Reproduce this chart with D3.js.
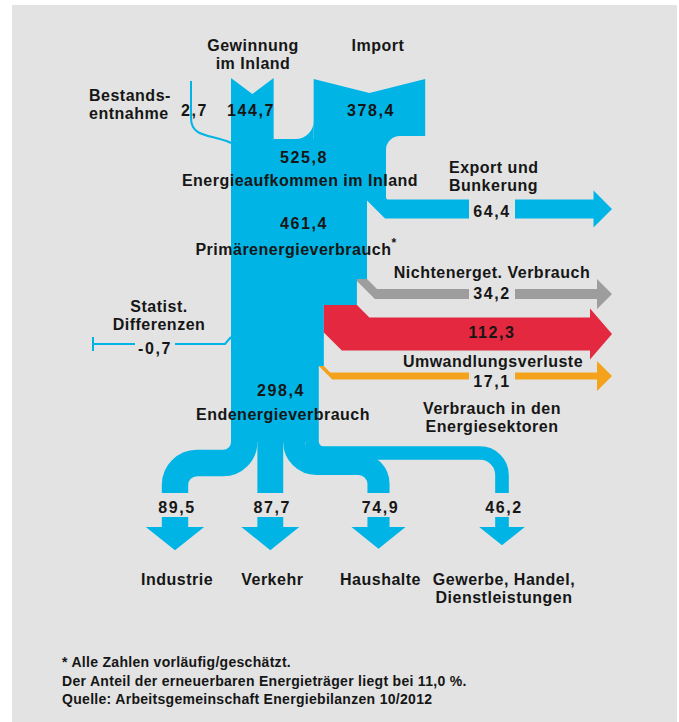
<!DOCTYPE html>
<html>
<head>
<meta charset="utf-8">
<title>Energieflussbild</title>
<script src="https://cdn.jsdelivr.net/npm/d3@7"></script>
<style>
  body { margin: 0; background: #fff; }
  svg { display: block; }
  text { font-family: "Liberation Sans", Arial, sans-serif; font-weight: 700; fill: #161616; }
  .lbl { font-size: 16px; letter-spacing: 0.5px; }
  .num { font-size: 16px; letter-spacing: 1.6px; }
  .note { font-size: 14px; letter-spacing: 0.3px; }
</style>
</head>
<body>
<svg id="chart" width="679" height="722"></svg>
<script>

// values as printed in the chart
var sourceNames  = [["Bestands-", "entnahme"], ["Gewinnung", "im Inland"], ["Import"]];
var sourceValues = [2.7, 144.7, 378.4];

var stageNames  = ["Energieaufkommen im Inland", "Primärenergieverbrauch", "Endenergieverbrauch"];
var stageValues = [525.8, 461.4, 298.4];

var outflowNames  = [["Export und", "Bunkerung"], ["Nichtenerget. Verbrauch"], ["Umwandlungsverluste"], ["Verbrauch in den", "Energiesektoren"]];
var outflowValues = [64.4, 34.2, 112.3, 17.1];

var diffName  = ["Statist.", "Differenzen"];
var diffValue = -0.7;

var sectorNames  = [["Industrie"], ["Verkehr"], ["Haushalte"], ["Gewerbe, Handel,", "Dienstleistungen"]];
var sectorValues = [89.5, 87.7, 74.9, 46.2];

var notes = [
    "* Alle Zahlen vorläufig/geschätzt.",
    "Der Anteil der erneuerbaren Energieträger liegt bei 11,0 %.",
    "Quelle: Arbeitsgemeinschaft Energiebilanzen 10/2012"
];

// colours
var blue = "#00b4e5", bg = "#e2e3e2";
var outColors = [blue, "#9d9d9d", "#e3283f", "#f4a11c"];

// layout
var x0 = 231, yTop = 78, yJoin = 139, yImpBottom = 136, yBottom = 442, yEnd = 493;
var outY     = [198, 279, 305, 366];   // where each outflow leaves the trunk
var outMid   = [209, 294, 334, 376];   // centre of the horizontal arrow
var outNumDy = [8, 5, 4, 11];
var tipX = 612, numX = 492;
var sectorX  = [175, null, 378.5, 502];
var sectorYh = [463, null, 464, 453];
var sectorR1 = [21, 0, 22, 11];
var sectorR2 = [22, 0, 20, 22];

var svg = d3.select("#chart");
svg.append("rect")
    .attr("x", 12).attr("y", 5)
    .attr("width", 665).attr("height", 717)
    .attr("fill", bg);

var fmt = d3.formatLocale({ decimal: ",", thousands: ".", grouping: [3], currency: ["", ""], minus: "-" }).format(".1f");

// one width scale for every stream
var w = d3.scaleLinear().domain([0, stageValues[0]]).range([0, 155]);

var line = d3.line();
var gFlow = svg.append("g");
var gText = svg.append("g");

// multi-line label as one text element
function label(lines, x, y, anchor, cls) {
    var t = gText.append("text")
        .attr("class", cls || "lbl")
        .attr("x", x).attr("y", y)
        .attr("text-anchor", anchor || "middle");
    lines.forEach(function(s, j) {
        t.append("tspan").attr("x", x).attr("dy", j ? 18 : 0).text(s);
    });
    return t;
}

// ---- sources on top ----
var gx1 = x0 + w(sourceValues[1]);
var ix0 = gx1 + 40, ix1 = ix0 + w(sourceValues[2]);

// trunk right edge after each outflow
var edges = [x0 + w(stageValues[0])];
outflowValues.forEach(function(v, i) { edges.push(edges[i] - w(v)); });

gFlow.append("path")
    .attr("d", line([[x0, yTop], [(x0 + gx1) / 2, yTop + 16], [gx1, yTop], [gx1, yJoin + 1], [x0, yJoin + 1]]) + "Z")
    .attr("fill", blue);

gFlow.append("path")
    .attr("d", line([[ix0, yTop + 1], [(ix0 + ix1) / 2, yTop + 15], [ix1, yTop + 1], [ix1, yImpBottom],
                     [edges[0], yImpBottom], [edges[0], yJoin + 1], [ix0, yJoin + 1]]) + "Z")
    .attr("fill", blue);

// trunk
var trunk = [[x0, yJoin], [edges[0], yJoin]];
outY.forEach(function(y, i) { trunk.push([edges[i], y], [edges[i + 1], y]); });
trunk.push([edges[4], yBottom], [x0, yBottom]);
gFlow.append("path").attr("d", line(trunk) + "Z").attr("fill", blue);

// rounded inner corners
var r = 18;
gFlow.append("path")
    .attr("d", "M" + (ix0 - r) + "," + yJoin + "L" + ix0 + "," + yJoin + "L" + ix0 + "," + (yJoin - r) +
               "A" + r + "," + r + " 0 0 1 " + (ix0 - r) + "," + yJoin + "Z")
    .attr("fill", blue);
r = 14;
gFlow.append("path")
    .attr("d", "M" + edges[0] + "," + yImpBottom + "L" + (edges[0] + r) + "," + yImpBottom +
               "A" + r + "," + r + " 0 0 0 " + edges[0] + "," + (yImpBottom + r) + "Z")
    .attr("fill", blue);

// Bestandsentnahme: thin line into the trunk
gFlow.append("path")
    .attr("d", "M191,81 L191,118 C191,139 214,134 " + x0 + "," + (yJoin + 4))
    .attr("fill", "none").attr("stroke", blue)
    .attr("stroke-width", Math.max(2, w(sourceValues[0])));

// ---- outflow arrows to the right ----
outflowValues.forEach(function(v, i) {
    var t = Math.max(7, w(v)), ys = outY[i], yc = outMid[i];
    var xa = edges[i + 1], xb = edges[i];
    var yt = yc - t / 2, yb = yc + t / 2;
    var D = Math.min(yb - ys, 18);
    var hh = Math.max(15, t / 2 + 9), hl = Math.min(hh, 22), hx = tipX - hl;
    var pts = [[xa, ys], [xb, ys], [xb + Math.max(0, yt - ys), yt], [hx, yt], [hx, yc - hh], [tipX, yc],
               [hx, yc + hh], [hx, yb], [xa + D, yb], [xa, yb - D]];
    gFlow.append("path").attr("d", line(pts) + "Z").attr("fill", outColors[i]);

    if (i !== 2) {
        gFlow.append("rect")
            .attr("x", numX - 23).attr("y", yt - 1)
            .attr("width", 46).attr("height", t + 2)
            .attr("fill", bg);
    }
    gText.append("text").attr("class", "num")
        .attr("x", numX).attr("y", yc + outNumDy[i])
        .attr("text-anchor", "middle")
        .text(fmt(v));
});

// outflow names
label(outflowNames[0], 449, 173, "start");
label(outflowNames[1], 492, 278);
label(outflowNames[2], 493, 367);
label(outflowNames[3], 492, 414);

// ---- statistical differences ----
gFlow.append("path")
    .attr("d", "M93,344 H225 L" + x0 + ",337 M93,337 V351")
    .attr("fill", "none").attr("stroke", blue).attr("stroke-width", 2);
gFlow.append("rect").attr("x", 135).attr("y", 340).attr("width", 40).attr("height", 8).attr("fill", bg);
label(diffName, 159, 312);
gText.append("text").attr("class", "num").attr("x", 155).attr("y", 354).attr("text-anchor", "middle").text(fmt(diffValue));

// ---- end use sectors ----
function branchPath(xs, xe, yh, r1, r2) {
    var p = d3.path();
    p.moveTo(xs, yBottom);
    if (xe === null || xe === xs) { p.lineTo(xs, yEnd); return p.toString(); }
    var dir = xe < xs ? -1 : 1;
    p.lineTo(xs, yh - r1);
    p.arcTo(xs, yh, xs + dir * r1, yh, r1);
    p.lineTo(xe - dir * r2, yh);
    p.arcTo(xe, yh, xe, yh + r2, r2);
    p.lineTo(xe, yEnd);
    return p.toString();
}

var xs = x0;
sectorValues.forEach(function(v, i) {
    var bw = w(v), xc = xs + bw / 2;
    var xe = sectorX[i] === null ? xc : sectorX[i];
    gFlow.append("path")
        .attr("d", branchPath(xc, xe, sectorYh[i], sectorR1[i], sectorR2[i]))
        .attr("fill", "none").attr("stroke", blue)
        .attr("stroke-width", bw);

    var hw = bw / 2 + 16, hgt = hw * 0.8;
    gFlow.append("path")
        .attr("d", line([[xe - bw / 2, 517], [xe + bw / 2, 517], [xe + bw / 2, 527], [xe + hw, 527],
                         [xe, 527 + hgt], [xe - hw, 527], [xe - bw / 2, 527]]) + "Z")
        .attr("fill", blue);

    gText.append("text").attr("class", "num")
        .attr("x", xe + 2).attr("y", 513).attr("text-anchor", "middle")
        .text(fmt(v));
    label(sectorNames[i], xe + 2, 585);
    xs += bw;
});

// ---- source and stage labels ----
label(sourceNames[0], 89, 101, "start");
label(sourceNames[1], 253, 51);
label(sourceNames[2], 378, 51);

[194.5, 251, 371].forEach(function(x, i) {
    gText.append("text").attr("class", "num")
        .attr("x", x).attr("y", 116).attr("text-anchor", "middle")
        .text(fmt(sourceValues[i]));
});

var stageNumY = [163, 229, 396], stageLblY = [186, 255, 420], stageX = [304, 304, 281];
stageValues.forEach(function(v, i) {
    gText.append("text").attr("class", "num")
        .attr("x", stageX[i]).attr("y", stageNumY[i]).attr("text-anchor", "middle")
        .text(fmt(v));
});
label([stageNames[0]], 300, stageLblY[0]);
var prim = gText.append("text").attr("class", "lbl").attr("x", 296).attr("y", stageLblY[1]).attr("text-anchor", "middle");
prim.append("tspan").text(stageNames[1]);
prim.append("tspan").attr("dy", -8).style("font-size", "12px").text("*");
label([stageNames[2]], 283, stageLblY[2]);

// ---- footnotes ----
notes.forEach(function(s, i) {
    gText.append("text").attr("class", "note")
        .attr("x", 62).attr("y", 667 + i * 18.5)
        .text(s);
});

</script>
</body>
</html>
